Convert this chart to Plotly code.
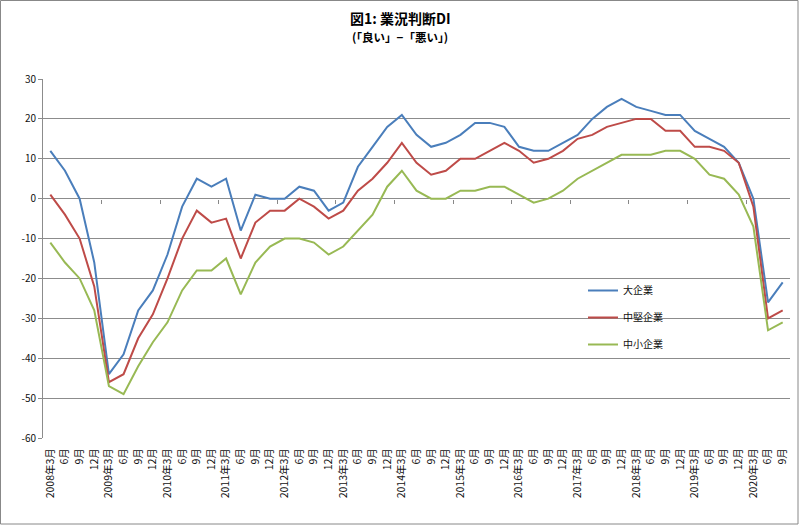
import plotly.graph_objects as go

years = list(range(2008, 2021))
months = ["3月", "6月", "9月", "12月"]
categories = []
for y in years:
    for m in months:
        if y == 2020 and m == "12月":
            continue
        categories.append(f"{y}年{m}" if m == "3月" else m)

large = [12, 7, 0, -16, -44, -39, -28, -23, -14, -2, 5, 3, 5, -8, 1, 0,
         0, 3, 2, -3, -1, 8, 13, 18, 21, 16, 13, 14, 16, 19, 19, 18,
         13, 12, 12, 14, 16, 20, 23, 25, 23, 22, 21, 21, 17, 15, 13, 9,
         0, -26, -21]
medium = [1, -4, -10, -22, -46, -44, -35, -29, -20, -10, -3, -6, -5, -15, -6, -3,
          -3, 0, -2, -5, -3, 2, 5, 9, 14, 9, 6, 7, 10, 10, 12, 14,
          12, 9, 10, 12, 15, 16, 18, 19, 20, 20, 17, 17, 13, 13, 12, 9,
          -2, -30, -28]
small = [-11, -16, -20, -28, -47, -49, -42, -36, -31, -23, -18, -18, -15, -24, -16, -12,
         -10, -10, -11, -14, -12, -8, -4, 3, 7, 2, 0, 0, 2, 2, 3, 3,
         1, -1, 0, 2, 5, 7, 9, 11, 11, 11, 12, 12, 10, 6, 5, 1,
         -7, -33, -31]

y_ticks = [30, 20, 10, 0, -10, -20, -30, -40, -50, -60]
y_tick_labels = ["30", "20", "10", "0", "-10", "-20", "-30", "-40", "-50", "-60"]

series = [("大企業", large, "#4A7EBB"), ("中堅企業", medium, "#BE4B48"), ("中小企業", small, "#98B954")]

FONT = "Noto Sans CJK JP"
idx = list(range(len(categories)))

fig = go.Figure()
for i, (name, vals, col) in enumerate(series):
    fig.add_trace(go.Scatter(x=idx, y=vals, mode="lines", name=name,
                             line=dict(color=col, width=2), legendgroup=str(i)))
fig.add_trace(go.Scatter(x=[], y=[], xaxis="x2", yaxis="y", showlegend=False, hoverinfo="skip"))

L, R, T, B = 43, 790, 79, 438
W, H = R - L, B - T

year_ticks = [i - 0.5 for i, c in enumerate(categories) if "年" in c and i > 0]

fig.update_layout(
    width=804, height=525,
    margin=dict(l=L, r=804 - R, t=T, b=525 - B),
    paper_bgcolor="white", plot_bgcolor="white",
    font=dict(family=FONT, size=10, color="#222"),
    showlegend=True,
    legend=dict(x=(583 - L) / W, y=(B - 276) / H, xanchor="left", yanchor="top",
                bgcolor="rgba(0,0,0,0)", font=dict(size=10, color="#111"),
                tracegroupgap=8, itemwidth=30),
    xaxis=dict(range=[-0.5, len(categories) - 0.5], tickmode="array", tickvals=idx,
               ticktext=categories, tickangle=-90, showgrid=False, zeroline=False,
               showline=False, ticks="outside", ticklen=5, tickcolor="rgba(0,0,0,0)",
               tickfont=dict(size=10.5, color="#111")),
    xaxis2=dict(overlaying="x", anchor="free", position=60 / 90,
                range=[-0.5, len(categories) - 0.5], tickmode="array", tickvals=year_ticks,
                ticks="outside", ticklen=4, tickcolor="#888", showticklabels=False,
                showgrid=False, zeroline=False, showline=False),
    yaxis=dict(range=[-60, 30], tickmode="array", tickvals=y_ticks, ticktext=y_tick_labels,
               showgrid=True, gridcolor="#8C8C8C",
               gridwidth=1, zeroline=False, showline=True, linecolor="#8C8C8C",
               ticks="outside", ticklen=4, tickcolor="#8C8C8C",
               tickfont=dict(size=10, color="#111")),
    annotations=[
        dict(text="<b>図1: 業況判断DI</b>", xref="paper", yref="paper",
             x=(400 - L) / W, y=(B - 18) / H, xanchor="center", yanchor="middle",
             showarrow=False, font=dict(size=14, color="#000")),
        dict(text="<b>(「良い」−「悪い」)</b>", xref="paper", yref="paper",
             x=(400 - L) / W, y=(B - 37) / H, xanchor="center", yanchor="middle",
             showarrow=False, font=dict(size=11.5, color="#000")),
    ],
    shapes=[dict(type="rect", xref="paper", yref="paper",
                 x0=(0.5 - L) / W, x1=(798 - L) / W, y0=(B - 524) / H, y1=(B - 0.5) / H,
                 line=dict(color="#888", width=1), fillcolor="rgba(0,0,0,0)", layer="below")],
)

fig.write_html("out.html", config={"displayModeBar": False},
               post_script="document.body.style.margin='0';document.body.style.padding='0';")
